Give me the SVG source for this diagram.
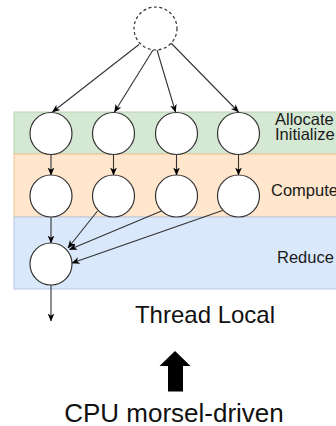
<svg xmlns="http://www.w3.org/2000/svg" width="336" height="426" viewBox="0 0 336 426">
  <style>
    .node { fill: #ffffff; stroke: #333333; stroke-width: 1.2; }
    .ghost { fill: #ffffff; stroke: #333333; stroke-width: 1.2; stroke-dasharray: 3 2.5; }
    .edge { fill: none; stroke: #333333; stroke-width: 1.1; marker-end: url(#head); }
    .lane-label { font-family: "Liberation Sans", Arial, sans-serif; font-size: 16.5px; fill: #1a1a1a; }
    .caption { font-family: "Liberation Sans", Arial, sans-serif; fill: #111111; text-anchor: middle; }
  </style>
  <defs>
    <marker id="head" viewBox="0 0 8 8" refX="7.5" refY="4" markerWidth="8" markerHeight="8" orient="auto" markerUnits="userSpaceOnUse">
      <path d="M0,0.6 L8,4 L0,7.4 L2.2,4 Z" fill="#000000"/>
    </marker>
  </defs>

  <!-- swimlane bands -->
  <g id="lanes">
    <rect x="14" y="112" width="330" height="42" fill="#d5e8d4" stroke="#b9d4b4" stroke-width="1"/>
    <rect x="14" y="154" width="330" height="63" fill="#ffe6cc" stroke="#efc48e" stroke-width="1"/>
    <rect x="14" y="217" width="330" height="72" fill="#dae8fc" stroke="#b3c7e6" stroke-width="1"/>
  </g>

  <!-- lane labels -->
  <g id="lane-labels">
    <text class="lane-label" x="275" y="125">Allocate</text>
    <text class="lane-label" x="275" y="140">Initialize</text>
    <text class="lane-label" x="271" y="196">Compute</text>
    <text class="lane-label" x="277" y="263">Reduce</text>
  </g>

  <!-- connectors -->
  <g id="edges">
    <line class="edge" x1="139" y1="44.5" x2="52.5" y2="112"/>
    <line class="edge" x1="153" y1="50" x2="114.5" y2="112"/>
    <line class="edge" x1="157" y1="50" x2="175.5" y2="112"/>
    <line class="edge" x1="171" y1="43" x2="238.5" y2="112"/>

    <line class="edge" x1="51" y1="154.5" x2="51" y2="175"/>
    <line class="edge" x1="113.5" y1="154.5" x2="113.5" y2="175"/>
    <line class="edge" x1="176.5" y1="154.5" x2="176.5" y2="175"/>
    <line class="edge" x1="238.5" y1="154.5" x2="238.5" y2="175"/>

    <line class="edge" x1="51" y1="217" x2="51" y2="243"/>
    <line class="edge" x1="97.5" y1="211" x2="68" y2="248"/>
    <line class="edge" x1="161.5" y1="211" x2="69.5" y2="249.5"/>
    <line class="edge" x1="222.5" y1="210.5" x2="72" y2="263"/>

    <line class="edge" x1="51" y1="285" x2="51" y2="321"/>
  </g>

  <!-- nodes -->
  <g id="source"><circle class="ghost" cx="155.5" cy="28.5" r="21.5"/></g>

  <g id="alloc-1"><circle class="node" cx="51" cy="133.5" r="21"/></g>
  <g id="alloc-2"><circle class="node" cx="113.5" cy="133.5" r="21"/></g>
  <g id="alloc-3"><circle class="node" cx="176.5" cy="133.5" r="21"/></g>
  <g id="alloc-4"><circle class="node" cx="238.5" cy="133.5" r="21"/></g>

  <g id="compute-1"><circle class="node" cx="51" cy="196" r="21"/></g>
  <g id="compute-2"><circle class="node" cx="113.5" cy="196" r="21"/></g>
  <g id="compute-3"><circle class="node" cx="176.5" cy="196" r="21"/></g>
  <g id="compute-4"><circle class="node" cx="238.5" cy="196" r="21"/></g>

  <g id="reduce"><circle class="node" cx="51" cy="264" r="21"/></g>

  <!-- captions -->
  <text class="caption" x="205" y="323" font-size="24">Thread Local</text>
  <polygon id="up-arrow" points="175,351 190.5,366 183,366 183,391.5 168,391.5 168,366 159.5,366" fill="#000000"/>
  <text class="caption" x="174" y="421.5" font-size="26">CPU morsel-driven</text>
</svg>
